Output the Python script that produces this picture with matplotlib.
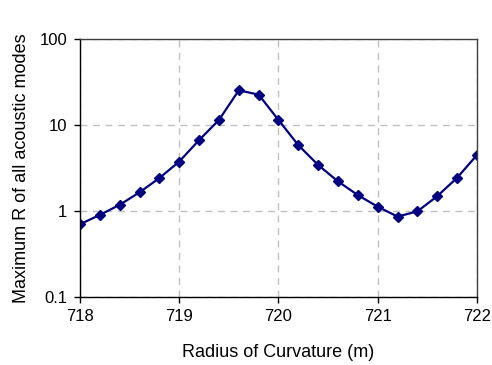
import matplotlib
matplotlib.use("Agg")
import matplotlib.pyplot as plt
import numpy as np

radius = [718.0, 718.2, 718.4, 718.6, 718.8, 719.0, 719.2, 719.4, 719.6, 719.8,
          720.0, 720.2, 720.4, 720.6, 720.8, 721.0, 721.2, 721.4, 721.6, 721.8, 722.0]
max_r = [0.70, 0.90, 1.18, 1.65, 2.42, 3.77, 6.7, 11.5, 25.5, 22.7,
         11.5, 5.85, 3.43, 2.21, 1.53, 1.12, 0.86, 0.99, 1.49, 2.44, 4.5]
xticks = [718, 719, 720, 721, 722]
yticks = [0.1, 1, 10, 100]
ytick_labels = ["0.1", "1", "10", "100"]

plt.rcParams['font.family'] = ['Liberation Sans', 'DejaVu Sans']

fig = plt.figure(figsize=(4.92, 3.65), dpi=100)
ax = fig.add_axes([0.1626, 0.187, 0.8069, 0.705])

ax.plot(radius, max_r, color='#000080', marker='D', markersize=5.2, linewidth=1.6)
ax.set_yscale('log')
ax.set_xlim(718, 722)
ax.set_ylim(0.1, 100)
ax.set_xticks(xticks)
ax.set_xticklabels([str(t) for t in xticks])
ax.set_yticks(yticks)
ax.set_yticklabels(ytick_labels)
ax.yaxis.set_minor_locator(matplotlib.ticker.NullLocator())
ax.tick_params(axis='both', labelsize=12, length=4, width=1, direction='out', pad=5)
ax.grid(True, which='major', color='#c0c0c0', linestyle=(0, (5, 4)), linewidth=1)
ax.set_axisbelow(True)
for s in ['left', 'bottom']:
    ax.spines[s].set_color('black')
    ax.spines[s].set_linewidth(1)
for s in ['top', 'right']:
    ax.spines[s].set_color('#404040')
    ax.spines[s].set_linewidth(1)

ax.set_xlabel('Radius of Curvature (m)', fontsize=13, labelpad=14)
ax.set_ylabel('Maximum R of all acoustic modes', fontsize=13, labelpad=7)

fig.savefig('out.png', dpi=100)
